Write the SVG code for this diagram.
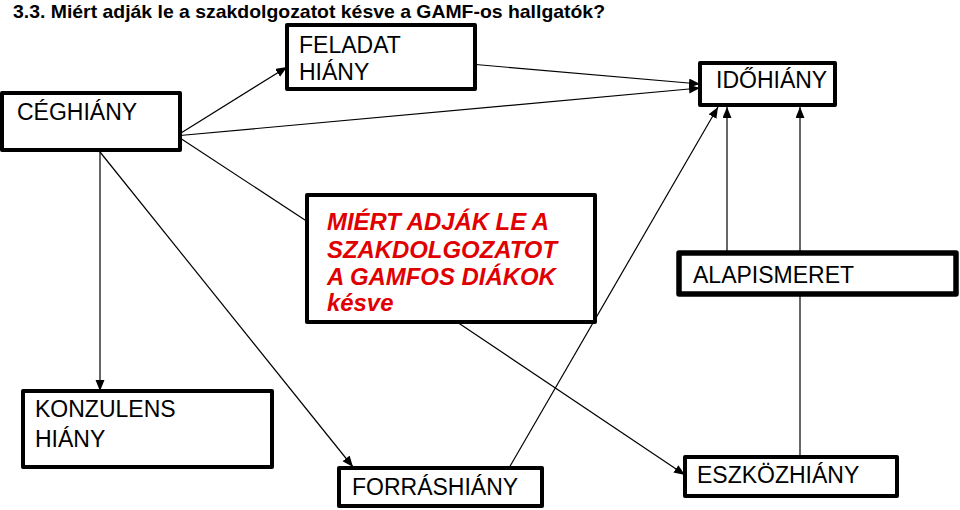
<svg xmlns="http://www.w3.org/2000/svg" width="960" height="510" viewBox="0 0 960 510">
<style>
.box{fill:#fff;stroke:#000;stroke-width:4;stroke-linejoin:round}
.thick{stroke-width:5.5}
.lbl{font-family:"Liberation Sans",Arial,sans-serif;font-size:23px;fill:#000}
.ttl{font-family:"Liberation Sans",Arial,sans-serif;font-size:19px;font-weight:bold;fill:#000}
.red{font-family:"Liberation Sans",Arial,sans-serif;font-size:23.9px;font-weight:bold;font-style:italic;fill:#e00000}
.c{fill:none;stroke:#000;stroke-width:1.2}
</style>
<defs>
<marker id="ah" markerUnits="userSpaceOnUse" markerWidth="12" markerHeight="10" refX="11" refY="4.5" orient="auto">
<path d="M0,0 L11,4.5 L0,9 z" fill="#000"/>
</marker>
</defs>
<rect width="960" height="510" fill="#fff"/>
<text class="ttl" x="13" y="17.5" textLength="592" lengthAdjust="spacingAndGlyphs">3.3. Miért adják le a szakdolgozatot késve a GAMF-os hallgatók?</text>
<g id="connectors">
<line class="c" x1="181" y1="133" x2="287" y2="67" marker-end="url(#ah)"/>
<line class="c" x1="180" y1="135.5" x2="700" y2="88" marker-end="url(#ah)"/>
<line class="c" x1="470" y1="64" x2="700" y2="84" marker-end="url(#ah)"/>
<line class="c" x1="180" y1="138" x2="308" y2="222"/>
<line class="c" x1="100" y1="152" x2="100" y2="391" marker-end="url(#ah)"/>
<line class="c" x1="100" y1="152" x2="353" y2="467" marker-end="url(#ah)"/>
<line class="c" x1="457" y1="322" x2="685" y2="475" marker-end="url(#ah)"/>
<line class="c" x1="509" y1="468" x2="718" y2="107" marker-end="url(#ah)"/>
<line class="c" x1="727" y1="253" x2="727" y2="107" marker-end="url(#ah)"/>
<line class="c" x1="800" y1="457" x2="800" y2="107" marker-end="url(#ah)"/>
</g>
<g id="ceghiany">
<rect class="box" x="2" y="93" width="178" height="57"/>
<text class="lbl" x="17" y="120">CÉGHIÁNY</text>
</g>
<g id="feladat">
<rect class="box" x="287" y="25" width="188" height="64"/>
<text class="lbl" x="299" y="53">FELADAT</text>
<text class="lbl" x="299" y="80">HIÁNY</text>
</g>
<g id="idohiany">
<rect class="box" x="700" y="63" width="135" height="42"/>
<text class="lbl" x="716" y="88">IDŐHIÁNY</text>
</g>
<g id="center">
<rect class="box" x="307" y="195" width="288" height="127"/>
<text class="red" x="327" y="230">MIÉRT ADJÁK LE A</text>
<text class="red" x="327" y="258">SZAKDOLGOZATOT</text>
<text class="red" x="327" y="285">A GAMFOS DIÁKOK</text>
<text class="red" x="327" y="311">késve</text>
</g>
<g id="alapismeret">
<rect class="box thick" x="679" y="253" width="277" height="41"/>
<text class="lbl" x="693" y="283">ALAPISMERET</text>
</g>
<g id="konzulens">
<rect class="box" x="23" y="391" width="249" height="76"/>
<text class="lbl" x="35" y="417">KONZULENS</text>
<text class="lbl" x="35" y="447">HIÁNY</text>
</g>
<g id="forrashiany">
<rect class="box" x="339" y="468" width="203" height="38"/>
<text class="lbl" x="352" y="495">FORRÁSHIÁNY</text>
</g>
<g id="eszkozhiany">
<rect class="box" x="685" y="457" width="212" height="39"/>
<text class="lbl" x="697" y="483">ESZKÖZHIÁNY</text>
</g>
</svg>
